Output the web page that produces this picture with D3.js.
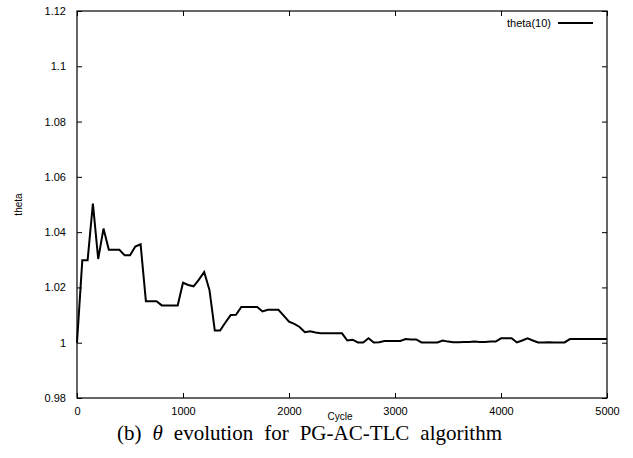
<!DOCTYPE html>
<html>
<head>
<meta charset="utf-8">
<script src="https://cdn.jsdelivr.net/npm/d3@7"></script>
<style>
  html, body { margin: 0; padding: 0; background: #fff; }
  svg { display: block; }
  text { font-family: "Liberation Sans", Arial, sans-serif; fill: #000; }
  .caption { font-family: "Liberation Serif", "Times New Roman", serif; }
</style>
</head>
<body>
<svg id="chart" width="633" height="458"></svg>
<script>
// Cycle numbers at which theta was sampled
const cycles = [
  0, 50, 100, 150, 200, 250, 300, 350, 400, 450,
  500, 550, 600, 650, 700, 750, 800, 850, 900, 950,
  1000, 1050, 1100, 1150, 1200, 1250, 1300, 1350, 1400, 1450,
  1500, 1550, 1600, 1650, 1700, 1750, 1800, 1850, 1900, 1950,
  2000, 2050, 2100, 2150, 2200, 2250, 2300, 2350, 2400, 2450,
  2500, 2550, 2600, 2650, 2700, 2750, 2800, 2850, 2900, 2950,
  3000, 3050, 3100, 3150, 3200, 3250, 3300, 3350, 3400, 3450,
  3500, 3550, 3600, 3650, 3700, 3750, 3800, 3850, 3900, 3950,
  4000, 4050, 4100, 4150, 4200, 4250, 4300, 4350, 4400, 4450,
  4500, 4550, 4600, 4650, 4700, 4750, 4800, 4850, 4900, 4950,
  5000
];

// theta(10) per cycle
const theta10 = [
  1.0000, 1.0298, 1.0298, 1.0503, 1.0303, 1.0413, 1.0336, 1.0336, 1.0336, 1.0316,
  1.0316, 1.0348, 1.0356, 1.0150, 1.0150, 1.0150, 1.0135, 1.0135, 1.0135, 1.0135,
  1.0217, 1.0209, 1.0204, 1.0228, 1.0256, 1.0190, 1.0044, 1.0044, 1.0073, 1.0100,
  1.0101, 1.0129, 1.0129, 1.0129, 1.0129, 1.0113, 1.0119, 1.0119, 1.0119, 1.0098,
  1.0076, 1.0068, 1.0057, 1.0038, 1.0041, 1.0037, 1.0034, 1.0034, 1.0034, 1.0034,
  1.0034, 1.0008, 1.0011, 1.0001, 1.0001, 1.0016, 1.0001, 1.0002, 1.0006, 1.0006,
  1.0006, 1.0006, 1.0013, 1.0012, 1.0012, 1.0001, 1.0001, 1.0001, 1.0001, 1.0008,
  1.0004, 1.0002, 1.0002, 1.0003, 1.0003, 1.0004, 1.0003, 1.0003, 1.0004, 1.0004,
  1.0016, 1.0016, 1.0016, 1.0001, 1.0008, 1.0016, 1.0008, 1.0001, 1.0001, 1.0002,
  1.0001, 1.0001, 1.0001, 1.0013, 1.0013, 1.0013, 1.0013, 1.0013, 1.0013, 1.0013,
  1.0013
];

const xTicks = [0, 1000, 2000, 3000, 4000, 5000];
const yTicks = [0.98, 1, 1.02, 1.04, 1.06, 1.08, 1.1, 1.12];
const seriesName = "theta(10)";
const xTitle = "Cycle";
const yTitle = "theta";

const svg = d3.select("#chart");
const W = 633, H = 458;
const margin = { top: 11, right: 26, bottom: 60, left: 77 };
const iw = W - margin.left - margin.right;
const ih = H - margin.top - margin.bottom;

const x = d3.scaleLinear().domain([0, 5000]).range([margin.left, margin.left + iw]);
const y = d3.scaleLinear().domain([0.98, 1.12]).range([margin.top + ih, margin.top]);

const tickLen = 5;

// Bottom axis with inward ticks
const gx = svg.append("g")
  .attr("transform", `translate(0,${margin.top + ih})`)
  .call(d3.axisBottom(x).tickValues(xTicks).tickSize(-tickLen).tickPadding(9)
    .tickFormat(d3.format("d")));
// Top mirror ticks
const gxTop = svg.append("g")
  .attr("transform", `translate(0,${margin.top})`)
  .call(d3.axisTop(x).tickValues(xTicks).tickSize(-tickLen).tickFormat(""));
// Left axis with inward ticks
const gy = svg.append("g")
  .attr("transform", `translate(${margin.left},0)`)
  .call(d3.axisLeft(y).tickValues(yTicks).tickSize(-tickLen).tickPadding(11)
    .tickFormat(d => d3.format("")(+d.toFixed(2))));
// Right mirror ticks
const gyRight = svg.append("g")
  .attr("transform", `translate(${margin.left + iw},0)`)
  .call(d3.axisRight(y).tickValues(yTicks).tickSize(-tickLen).tickFormat(""));

[gx, gxTop, gy, gyRight].forEach(g => {
  g.select(".domain").remove();
  g.selectAll("line").attr("stroke", "#000").attr("stroke-width", 1);
  g.selectAll("text").attr("font-size", 11).attr("font-family", "Liberation Sans, Arial, sans-serif").attr("fill", "#000");
});

// Plot frame
svg.append("rect")
  .attr("x", margin.left).attr("y", margin.top)
  .attr("width", iw).attr("height", ih)
  .attr("fill", "none").attr("stroke", "#000").attr("stroke-width", 1.2);

// Series line
const line = d3.line()
  .x((d, i) => x(cycles[i]))
  .y(d => y(d));

svg.append("path")
  .datum(theta10)
  .attr("d", line)
  .attr("fill", "none")
  .attr("stroke", "#000")
  .attr("stroke-width", 2)
  .attr("stroke-linejoin", "miter");

// Legend
svg.append("text")
  .attr("x", 551).attr("y", 23)
  .attr("dy", "0.35em")
  .attr("text-anchor", "end")
  .attr("font-size", 11)
  .text(seriesName);
svg.append("line")
  .attr("x1", 558).attr("x2", 593)
  .attr("y1", 23).attr("y2", 23)
  .attr("stroke", "#000").attr("stroke-width", 2);

// Axis titles
svg.append("text")
  .attr("x", margin.left + iw / 2 - 2).attr("y", 420)
  .attr("text-anchor", "middle")
  .attr("font-size", 10)
  .text(xTitle);
svg.append("text")
  .attr("transform", `translate(22,${margin.top + ih / 2}) rotate(-90)`)
  .attr("text-anchor", "middle")
  .attr("font-size", 10)
  .text(yTitle);

// Caption, spread across a fixed width by widening the word gaps
const capWidth = 385, capLeft = 117;
const cap = svg.append("text")
  .attr("class", "caption")
  .attr("x", capLeft).attr("y", 440)
  .attr("text-anchor", "start")
  .attr("font-size", 21);
cap.append("tspan").text("(b) ");
cap.append("tspan").attr("font-style", "italic").text("θ");
cap.append("tspan").text(" evolution for PG-AC-TLC algorithm");
const natural = cap.node().getComputedTextLength();
const gaps = 5;
cap.attr("word-spacing", Math.max(0, (capWidth - natural) / gaps));
</script>
</body>
</html>
